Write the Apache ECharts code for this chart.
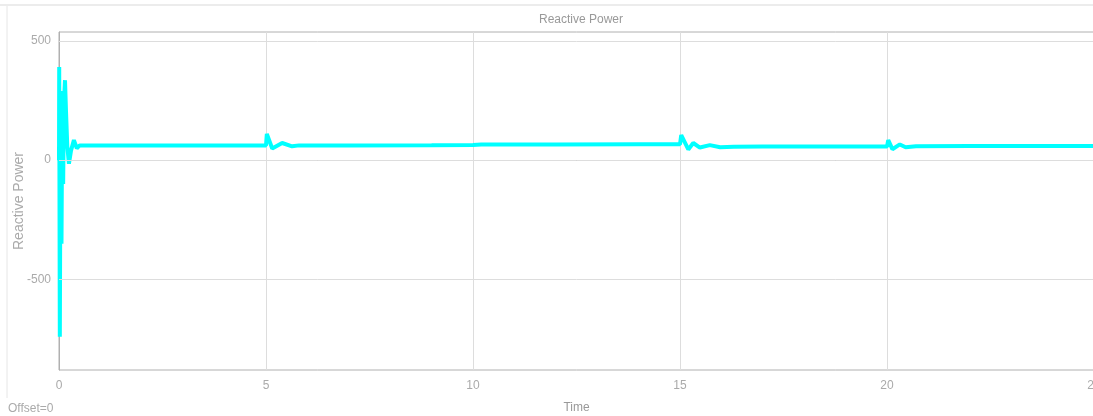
<!DOCTYPE html>
<html>
<head>
<meta charset="utf-8">
<script src="https://cdn.jsdelivr.net/npm/echarts@6/dist/echarts.min.js"></script>
<style>html,body{margin:0;padding:0;background:#fff}#c{width:1093px;height:416px}</style>
</head>
<body>
<div id="c"></div>
<script>
const titleText = 'Reactive Power';
const xName = 'Time';
const yName = 'Reactive Power';
const offsetText = 'Offset=0';
const yTicks = [-500, 0, 500];
const times = [0, 0.005, 0.02, 0.04, 0.06, 0.08, 0.1, 0.12, 0.145, 0.17, 0.2, 0.24, 0.29, 0.36, 0.43, 0.5,
  1, 2, 3, 4, 5, 5.02, 5.15, 5.39, 5.63, 5.8, 7, 9, 10, 10.2, 12, 14, 15, 15.03, 15.2, 15.32, 15.48, 15.72, 15.97,
  16.3, 17, 18, 19, 20, 20.03, 20.13, 20.31, 20.45, 20.7, 22, 24, 25];
const power = [0, 390, -740, 290, -350, 280, -100, 250, 335, 200, 60, -15, 40, 84, 50, 62,
  62, 61, 61, 61, 62, 110, 49, 72, 58, 62, 62, 63, 64, 66, 66, 67, 67, 105, 45, 72, 53, 63, 54,
  56, 57, 57, 57, 57, 84, 46, 66, 54, 58, 59, 59, 59];

const chart = echarts.init(document.getElementById('c'));
const data = times.map((t, i) => [t, power[i]]);
const gray = '#aaaaaa';
chart.setOption({
  animation: false,
  backgroundColor: '#fff',
  title: { text: titleText, left: 576, top: 9, textAlign: 'center',
    textStyle: { fontSize: 12, fontWeight: 'normal', color: '#999', fontFamily: 'Liberation Sans' } },
  grid: { left: 59, top: 32, width: 1035, bottom: 46, show: true, borderColor: '#b0b0b0', borderWidth: 1,
    containLabel: false, outerBoundsMode: 'none' },
  xAxis: {
    type: 'value', min: 0, max: 25, interval: 5,
    name: xName, nameLocation: 'middle', nameGap: 32, nameMoveOverlap: false,
    nameTextStyle: { color: '#999', fontSize: 12, fontFamily: 'Liberation Sans' },
    axisLine: { lineStyle: { color: '#b0b0b0' } },
    axisTick: { show: false },
    axisLabel: { color: gray, fontSize: 12, margin: 10, fontFamily: 'Liberation Sans' },
    splitLine: { show: true, lineStyle: { color: '#dddddd', width: 1 } }
  },
  yAxis: [{
    type: 'value', min: -879, max: 537,
    name: yName, nameLocation: 'middle', nameGap: 33, nameMoveOverlap: false,
    nameTextStyle: { color: gray, fontSize: 14, fontFamily: 'Liberation Sans' },
    axisLine: { show: true, lineStyle: { color: '#b0b0b0' } },
    axisTick: { show: true, inside: true, length: 10, customValues: yTicks, lineStyle: { color: '#999' } },
    axisLabel: { color: gray, fontSize: 12, margin: 8, customValues: yTicks, fontFamily: 'Liberation Sans' },
    splitLine: { show: false }
  }, {
    type: 'value', min: -879, max: 537, position: 'right',
    axisLine: { show: false },
    axisTick: { show: true, inside: true, length: 10, customValues: yTicks, lineStyle: { color: '#999' } },
    axisLabel: { show: false },
    splitLine: { show: false }
  }],
  graphic: [
    { type: 'line', shape: { x1: 0, y1: 5, x2: 1093, y2: 5 }, style: { stroke: '#ececec', lineWidth: 2 }, silent: true },
    { type: 'line', shape: { x1: 7, y1: 6, x2: 7, y2: 398 }, style: { stroke: '#e6e6e6', lineWidth: 1 }, silent: true },
    { type: 'text', left: 8, top: 403, style: { text: offsetText, fill: gray, fontSize: 12, fontFamily: 'Liberation Sans' } }
  ],
  series: [{
    type: 'line', data: [], silent: true, z: 1,
    markLine: { silent: true, symbol: 'none', label: { show: false }, animation: false,
      lineStyle: { color: '#dddddd', width: 1, type: 'solid' },
      data: yTicks.map(v => ({ yAxis: v })) }
  }, {
    type: 'line', data: data, showSymbol: false, z: 3,
    lineStyle: { color: '#00ffff', width: 4 }, itemStyle: { color: '#00ffff' }
  }]
});
</script>
</body>
</html>
